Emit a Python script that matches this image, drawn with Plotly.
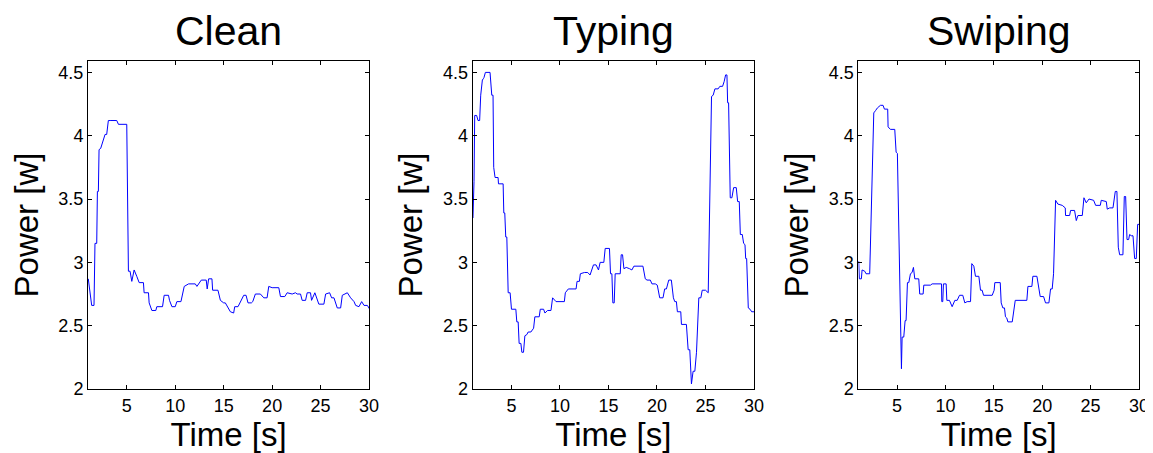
import plotly.graph_objects as go

# ---- data ----
clean_t = [1.03, 1.38, 1.62, 1.72, 1.9, 1.97, 2.07, 2.14, 2.31, 2.48, 2.76, 2.93, 3.1, 3.28, 3.97, 4.14, 5.0,
           5.17, 5.34, 5.52, 5.76, 6.03, 6.28, 6.72, 6.79, 7.24, 7.31, 7.59, 8.0, 8.1, 8.69, 8.86, 9.31, 9.41, 9.66,
           10.0, 10.17, 10.59, 10.69, 10.93, 11.38, 12.07, 12.24, 12.69, 13.2, 13.3, 13.45, 13.79, 13.86, 14.41,
           14.66, 15.0, 15.17, 15.45, 15.69, 16.03, 16.14, 16.48, 16.72, 17.07, 17.31, 17.51, 17.86, 18.0, 18.27,
           18.79, 19.14, 19.48, 19.65, 20.0, 20.69, 20.86, 21.31, 21.55, 22.07, 22.41, 22.58, 22.93, 23.1, 23.45,
           23.62, 23.96, 24.07, 24.41, 24.82, 25.34, 25.52, 25.93, 26.14, 26.38, 26.72, 27.07, 27.24, 27.76, 28.1,
           28.45, 28.62, 28.96, 29.24, 29.48, 29.83, 30.07]
clean_p = [2.87, 2.66, 2.66, 3.15, 3.15, 3.56, 3.56, 3.89, 3.9, 3.94, 4.01, 4.01, 4.12, 4.12, 4.12, 4.09, 4.09,
           2.93, 2.93, 2.85, 2.94, 2.89, 2.84, 2.84, 2.76, 2.76, 2.68, 2.62, 2.62, 2.65, 2.65, 2.74, 2.74, 2.70, 2.65,
           2.65, 2.69, 2.69, 2.72, 2.81, 2.83, 2.83, 2.81, 2.86, 2.86, 2.79, 2.87, 2.87, 2.78, 2.78,
           2.70, 2.68, 2.68, 2.64, 2.61, 2.60, 2.65, 2.65, 2.69, 2.74, 2.74, 2.68, 2.68, 2.69, 2.75,
           2.75, 2.72, 2.72, 2.81, 2.80, 2.80, 2.73, 2.73, 2.76, 2.75, 2.76, 2.75, 2.75, 2.70, 2.70,
           2.76, 2.76, 2.70, 2.76, 2.67, 2.67, 2.75, 2.76, 2.72, 2.72, 2.64, 2.64, 2.74, 2.76, 2.72,
           2.69, 2.66, 2.65, 2.69, 2.66, 2.66, 2.63]

typing_t = [1.03, 1.14, 1.21, 1.41, 1.55, 1.72, 1.83, 2.0, 2.1, 2.17, 2.31, 2.45, 2.79, 2.97, 3.1, 3.17, 3.31,
            3.62, 3.66, 4.14, 4.21, 4.31, 4.41, 4.52, 4.66, 4.86, 5.0, 5.45, 5.55, 5.69, 5.79, 5.97, 6.07, 6.24,
            6.38, 6.59, 6.72, 7.0, 7.28, 7.41, 7.86, 7.97, 8.31, 8.45, 8.72, 9.07, 9.24, 9.59, 10.45, 10.55, 10.86,
            11.66, 11.76, 12.0, 12.1, 12.52, 12.86, 13.1, 13.45, 13.72, 13.97, 14.14, 14.52, 14.66, 15.1, 15.21,
            15.35, 15.45, 15.59, 15.69, 16.0, 16.21, 16.31, 16.45, 16.59, 16.83, 17.17, 17.41, 17.62, 18.55, 18.79,
            18.97, 19.31, 19.48, 19.83, 20.03, 20.28, 20.62, 20.79, 20.97, 21.21, 21.48, 21.69, 21.83, 22.0, 22.1,
            22.45, 22.52, 23.03, 23.21, 23.38, 23.55, 23.72, 23.9, 24.07, 24.31, 24.52, 24.66, 25.0, 25.28, 25.62,
            25.79, 25.97, 26.3, 26.48, 26.76, 26.93, 27.07, 27.21, 27.28, 27.38, 27.55, 27.72, 27.9, 28.17, 28.31,
            28.48, 28.59, 28.79, 28.93, 29.07, 29.14, 29.24, 29.41, 29.59, 29.76, 30.1]
typing_p = [3.35, 3.64, 4.16, 4.16, 4.12, 4.12, 4.32, 4.44, 4.45, 4.46, 4.50, 4.50, 4.50, 4.32, 4.32, 3.75, 3.67,
            3.67, 3.62, 3.62, 3.39, 3.39, 3.20, 3.20, 2.76, 2.76, 2.63, 2.63, 2.53, 2.53, 2.36, 2.36, 2.29, 2.29,
            2.42, 2.43, 2.45, 2.45, 2.48, 2.57, 2.57, 2.63, 2.63, 2.60, 2.62, 2.62, 2.72, 2.69, 2.69, 2.76, 2.79,
            2.79, 2.85, 2.85, 2.91, 2.92, 2.92, 2.90, 2.98, 2.98, 2.94, 3.00, 3.00, 3.11, 3.11, 2.91,
            2.91, 2.68, 2.68, 2.91, 2.91, 2.91, 3.06, 3.06, 2.95, 2.96, 2.95, 2.94, 2.97, 2.97, 2.87,
            2.86, 2.86, 2.83, 2.83, 2.82, 2.72, 2.72, 2.79, 2.79, 2.86, 2.86, 2.72, 2.69, 2.69, 2.61,
            2.61, 2.51, 2.51, 2.31, 2.31, 2.04, 2.14, 2.14, 2.29, 2.72, 2.72, 2.78, 2.78, 2.76, 4.31,
            4.32, 4.37, 4.37, 4.39, 4.39, 4.43, 4.48, 4.48, 4.26, 4.26, 3.51, 3.51, 3.59, 3.59, 3.48,
            3.48, 3.22, 3.22, 3.15, 3.14, 3.03, 3.03, 2.64, 2.63, 2.61, 2.61]

swiping_t = [1.03, 1.1, 1.31, 1.38, 1.66, 1.79, 2.17, 2.59, 2.79, 2.97, 3.28, 3.55, 3.69, 4.03, 4.07, 4.31, 4.76,
             4.9, 5.03, 5.38, 5.45, 5.52, 5.69, 5.83, 5.93, 6.07, 6.21, 6.38, 6.55, 6.69, 6.83, 7.24, 7.34, 7.69,
             7.76, 8.45, 8.62, 9.59, 9.62, 9.72, 9.79, 10.07, 10.14, 10.41, 10.69, 10.97, 11.21, 11.45, 11.79, 12.0,
             12.24, 12.59, 12.72, 12.93, 13.1, 13.45, 13.62, 13.79, 13.93, 14.83, 15.03, 15.1, 15.66, 15.76, 15.93,
             16.1, 16.2, 16.34, 16.45, 16.9, 17.21, 18.41, 18.52, 18.93, 19.03, 19.45, 19.59, 19.79, 20.14, 20.34,
             20.69, 20.86, 21.03, 21.17, 21.38, 21.62, 22.07, 22.38, 22.41, 22.83, 22.93, 23.34, 23.52, 23.69,
             24.14, 24.31, 24.55, 24.83, 25.31, 25.52, 26.0, 26.1, 26.62, 26.72, 26.97, 27.31, 27.55, 27.72, 27.86,
             28.0, 28.34, 28.48, 28.62, 28.76, 28.93, 29.03, 29.2, 29.38, 29.55, 29.72, 29.86, 30.14]
swiping_p = [3.01, 2.87, 2.87, 2.94, 2.93, 2.91, 2.91, 4.18, 4.20, 4.22, 4.24, 4.24, 4.21, 4.21, 4.07, 4.05, 4.05,
             3.87, 3.86, 2.16, 2.16, 2.41, 2.41, 2.54, 2.54, 2.84, 2.84, 2.91, 2.92, 2.96, 2.87, 2.87, 2.75, 2.75,
             2.82, 2.82, 2.83, 2.83, 2.69, 2.69, 2.83, 2.83, 2.70, 2.70, 2.65, 2.70, 2.70, 2.74, 2.74, 2.68,
             2.69, 2.69, 2.99, 2.97, 2.89, 2.89, 2.78, 2.78, 2.74, 2.74, 2.78, 2.84, 2.84, 2.68, 2.64,
             2.64, 2.57, 2.56, 2.53, 2.53, 2.70, 2.70, 2.81, 2.81, 2.89, 2.89, 2.82, 2.73, 2.73, 2.68,
             2.68, 2.79, 2.79, 2.91, 3.49, 3.46, 3.45, 3.43, 3.37, 3.37, 3.41, 3.41, 3.33, 3.37,
             3.37, 3.51, 3.47, 3.50, 3.49, 3.45, 3.45, 3.49, 3.48, 3.42, 3.43, 3.43, 3.56, 3.56, 3.12,
             3.06, 3.06, 3.52, 3.52, 3.18, 3.18, 3.22, 3.21, 3.21, 3.03, 3.03, 3.30, 3.30]

titles = ["Clean", "Typing", "Swiping"]
x_ticks = [5, 10, 15, 20, 25, 30]
y_ticks = [2, 2.5, 3, 3.5, 4, 4.5]
y_tick_text = ["2", "2.5", "3", "3.5", "4", "4.5"]
x_label = "Time [s]"
y_label = "Power [w]"

series = [(clean_t, clean_p), (typing_t, typing_p), (swiping_t, swiping_p)]
domains = [[0.0, 0.2674], [0.366, 0.6337], [0.733, 1.0]]

FONT = "Liberation Sans, Arial, Helvetica, sans-serif"

fig = go.Figure()
# the page body adds an 8px margin, so the figure is 8px smaller than the window
layout = dict(
    width=1145, height=445,
    paper_bgcolor="white", plot_bgcolor="white",
    margin=dict(l=80, r=14, t=53, b=64),
    showlegend=False,
    font=dict(family=FONT, color="black", size=18),
    annotations=[],
)

for i, ((t, p), title, dom) in enumerate(zip(series, titles, domains)):
    n = "" if i == 0 else str(i + 1)
    fig.add_trace(go.Scatter(x=t, y=p, mode="lines",
                             line=dict(color="#0000ff", width=1),
                             xaxis="x" + n, yaxis="y" + n, hoverinfo="skip"))
    layout["xaxis" + n] = dict(
        domain=dom, anchor="y" + n, range=[1, 30], automargin=False,
        tickmode="array", tickvals=x_ticks, ticktext=[str(v) for v in x_ticks],
        ticks="inside", ticklen=4, tickcolor="black", tickwidth=1,
        showline=True, linecolor="black", linewidth=1, mirror="allticks",
        showgrid=False, zeroline=False,
        tickfont=dict(size=18, family=FONT, color="black"),
        title=dict(text=x_label, font=dict(size=33, family=FONT, color="black"), standoff=4),
    )
    layout["yaxis" + n] = dict(
        domain=[0, 1], anchor="x" + n, range=[2, 4.59], automargin=False,
        tickmode="array", tickvals=y_ticks, ticktext=y_tick_text,
        ticks="inside", ticklen=4, tickcolor="black", tickwidth=1,
        showline=True, linecolor="black", linewidth=1, mirror="allticks",
        showgrid=False, zeroline=False,
        tickfont=dict(size=18, family=FONT, color="black"),
        title=dict(text=y_label, font=dict(size=33, family=FONT, color="black"), standoff=10),
    )
    layout["annotations"].append(dict(
        text=title, xref="paper", yref="paper",
        x=(dom[0] + dom[1]) / 2, y=1, xanchor="center", yanchor="bottom",
        yshift=5, showarrow=False,
        font=dict(size=41, family=FONT, color="black"),
    ))

fig.update_layout(**layout)
fig.write_html("out.html")
